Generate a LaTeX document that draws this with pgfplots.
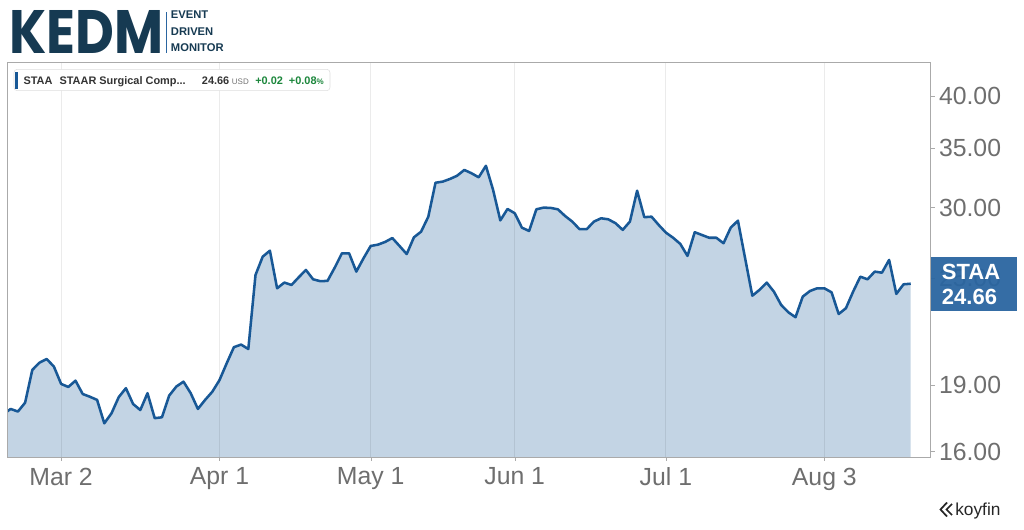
\documentclass[border=0pt]{standalone}
\usepackage{pgfplots}
\pgfplotsset{compat=1.18}
\usepackage{fontspec}
\setmainfont{Liberation Sans}
\newfontfamily\logofont{Poppins}

\definecolor{linec}{RGB}{24,88,150}
\definecolor{fillc}{RGB}{195,212,228}
\definecolor{boxc}{RGB}{42,101,160}
\definecolor{navy}{RGB}{22,58,82}
\definecolor{tickgray}{RGB}{110,110,110}
\definecolor{framegray}{RGB}{170,170,170}
\definecolor{upgreen}{RGB}{28,135,60}

\pgfplotstableread{
x y
-1 17.63
0 17.86
1 17.74
2 18.15
3 19.75
4 20.12
5 20.31
6 19.92
7 19.05
8 18.90
9 19.21
10 18.56
11 18.43
12 18.28
13 17.21
14 17.66
15 18.41
16 18.84
17 18.09
18 17.81
19 18.60
20 17.44
21 17.48
22 18.48
23 18.92
24 19.16
25 18.60
26 17.86
27 18.28
28 18.67
29 19.24
30 20.09
31 20.94
32 21.08
33 20.84
34 25.22
35 26.44
36 26.85
37 24.37
38 24.73
39 24.58
40 25.07
41 25.55
42 24.94
43 24.82
44 24.84
45 25.70
46 26.67
47 26.67
48 25.44
49 26.33
50 27.18
51 27.27
52 27.46
53 27.74
54 27.18
55 26.62
56 27.79
57 28.20
58 29.31
59 31.99
60 32.08
61 32.30
62 32.57
63 33.06
64 32.78
65 32.44
66 33.42
67 31.40
68 29.03
69 29.90
70 29.57
71 28.49
72 28.25
73 29.87
74 30.00
75 29.98
76 29.87
77 29.36
78 28.94
79 28.38
80 28.38
81 28.94
82 29.19
83 29.11
84 28.82
85 28.33
86 28.94
87 31.34
88 29.27
89 29.31
90 28.69
91 28.13
92 27.76
93 27.32
94 26.49
95 28.16
96 27.96
97 27.76
98 27.76
99 27.37
100 28.49
101 29.01
102 26.33
103 23.91
104 24.27
105 24.73
106 24.16
107 23.35
108 22.91
109 22.62
110 23.85
111 24.20
112 24.37
113 24.37
114 24.12
115 22.81
116 23.15
117 24.16
118 25.11
119 24.94
120 25.44
121 25.37
122 26.22
123 24.02
124 24.62
125 24.66
}\staa

\begin{document}
\begin{tikzpicture}
% pixel grid of the reference image (1024x529), origin top left
\tikzset{px/.style={x=0.75pt,y=-0.75pt,shift={(-5.25pt,342.75pt)}}}
\begin{scope}[px]
\useasboundingbox (0,0) rectangle (1024,529);
\end{scope}

\begin{axis}[
    at={(0,0)}, anchor=south west,
    scale only axis,
    width=692.8pt, height=295.7pt,
    ymode=log,
    xmin=-0.514, xmax=127.78,
    ymin=15.78, ymax=43.58,
    axis line style={draw=framegray},
    xtick={7,29,50,70,91,113},
    xticklabels={Mar 2,Apr 1,May 1,Jun 1,Jul 1,Aug 3},
    ytick={16,19,25,30,35,40},
    yticklabels={16.00,19.00,25.00,30.00,35.00,40.00},
    minor ytick={},
    xtick pos=lower, ytick pos=upper,
    yticklabel pos=upper,
    tick align=outside,
    major tick length=3pt,
    tick style={draw=framegray},
    xmajorgrids,
    grid style={black, opacity=0.08, line width=0.8pt},
    ticklabel style={font=\fontsize{18.6}{20}\selectfont, text=tickgray},
    xticklabel style={anchor=north, inner sep=0pt, yshift=-5pt},
    yticklabel style={anchor=west, inner sep=0pt, xshift=3pt},
    axis on top,
]
\addplot[draw=none, fill=fillc] table[x=x, y=y] {\staa} \closedcycle;
\addplot[linec, line width=1.9pt, line join=round] table[x=x, y=y] {\staa};
\end{axis}

\begin{scope}[px]
% last value label, laid over the 25.00 tick as in the source
\fill[boxc, fill opacity=0.95] (931,256.7) rectangle (1016.7,310.7);
\node[anchor=base west, inner sep=0, text=white, font=\fontsize{16.5}{18}\selectfont\bfseries] at (941.7,280) {STAA};
\node[anchor=base west, inner sep=0, text=white, font=\fontsize{16.5}{18}\selectfont\bfseries] at (941.7,305) {24.66};

% legend strip
\draw[fill=white, draw=black!13, rounded corners=2.5pt] (14,69.3) rectangle (330,90.7);
\fill[linec] (15,72) rectangle (18,89);
\begin{scope}[every node/.style={anchor=base west, inner sep=0, font=\fontsize{8.2}{10}\selectfont\bfseries}]
\node[text=black!80] at (23.3,84.3) {STAA};
\node[text=black!80] at (59.3,84.3) {STAAR Surgical Comp...};
\node[text=black!80] at (201.7,84.3) {24.66};
\node[text=black!55, font=\fontsize{6}{7}\selectfont] at (231.7,84.3) {USD};
\node[text=upgreen] at (255,84.3) {+0.02};
\node[text=upgreen] at (288.7,84.3) {+0.08{\fontsize{6}{7}\selectfont\%}};
\end{scope}

% KEDM logo
\node[anchor=south west, inner sep=0, text=navy] at (9.3,53.3)
    {\resizebox{115.5pt}{32.25pt}{\logofont\bfseries KEDM}};
\fill[boxc] (165.7,11.7) rectangle (167.3,53.3);
\begin{scope}[every node/.style={anchor=base west, inner sep=0, text=navy, font=\fontsize{8.4}{9}\selectfont\bfseries}]
\node at (170.7,19) {EVENT};
\node at (170.7,35.3) {DRIVEN};
\node at (170.7,51.7) {MONITOR};
\end{scope}

% koyfin mark
\draw[black!85, line width=1.3pt, line join=miter] (947,502.5) -- (940.5,509.5) -- (947,516.5);
\draw[black!85, line width=1.3pt, line join=miter] (952,504) -- (946.5,509.5) -- (952,515);
\node[anchor=base west, inner sep=0, text=black!85, font=\fontsize{13}{14}\selectfont] at (955,515) {koyfin};
\end{scope}
\end{tikzpicture}
\end{document}
